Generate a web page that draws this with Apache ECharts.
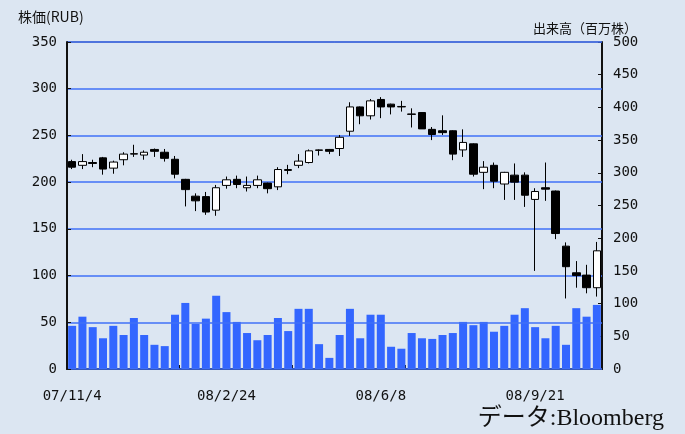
<!DOCTYPE html>
<html>
<head>
<meta charset="utf-8">
<script src="https://cdn.jsdelivr.net/npm/echarts@6/dist/echarts.min.js"></script>
<style>
html,body{margin:0;padding:0;background:#dce6f2;}
#chart{width:685px;height:434px;}
</style>
</head>
<body>
<div id="chart"></div>
<script>
// 週足 07/11/4 ~
var dates = ['07/11/4','07/11/11','07/11/18','07/11/25','07/12/2','07/12/9','07/12/16','07/12/23','07/12/30',
	'08/1/13','08/1/20','08/1/27','08/2/3','08/2/10','08/2/17','08/2/24','08/3/2','08/3/9','08/3/16','08/3/23',
	'08/3/30','08/4/6','08/4/13','08/4/20','08/4/27','08/5/4','08/5/11','08/5/18','08/5/25','08/6/1','08/6/8',
	'08/6/15','08/6/22','08/6/29','08/7/6','08/7/13','08/7/20','08/7/27','08/8/3','08/8/10','08/8/17','08/8/24',
	'08/8/31','08/9/7','08/9/14','08/9/21','08/9/28','08/10/5','08/10/12','08/10/19','08/10/26','08/11/2'];
var labelIdx = [0, 15, 30, 45];
// 始値, 終値, 安値, 高値
var openP  = [222,218,221,226,215,224,230,229,235,232,224.5,203,185,184.5,170,196.5,203,194,196.5,199,
	195,212.5,218,221,234,235,236,254.5,280.5,271,288.5,283.5,280.5,272.5,274.5,256.5,255,255,234.5,241,
	210.5,218,198,207.5,207.5,181.5,194,190.5,131.5,103,100.5,87];
var closeP = [216,222,220,214,221.5,230,230.5,232,233,225.5,208.5,192,180,168,194,202.5,197.5,196.5,202.5,193,
	213.5,213.5,222.5,233.5,234.5,233,248,280.5,271,287,280.5,280.5,281,273,257,251,253,230,242.5,208.5,
	216,201,210.5,200,186,190,192.5,145,109.5,100,87,126.5];
var lowP   = [214,214,216,208,209,218,227,224,227,222,204,174,169,165,164,193,193.5,190,193.5,188,
	191.5,208.5,215,220,228.5,230,228,249.5,262,267,268.5,272.5,275.5,258.5,257,245,250.5,223.5,227,206,
	192.5,193.5,181,181,173.5,105,180,139,75.5,87,81,77.5];
var highP  = [224,230,224,227,223,232,240,234,236,235.5,228,203.5,188,189.5,197,206,207,206,207,199.5,
	216,218.5,230,235,235,235.5,250.5,285.5,281,289,291,284,287,279,275,259,271.5,255.5,256.5,241.5,
	222.5,221,211,220,210.5,193.5,221,191,135.5,115.5,111.5,136];
// 出来高(百万株)
var volume = [66,80,64,47,66,52,78,52,37,35,83,101,69,77,112,87,72,55,44,52,
	78,58,92,92,38,17,52,92,47,83,83,34,31,55,47,46,52,55,72,67,
	72,57,66,83,93,64,47,66,37,93,80,98];

window.onload = function() {
	var chart = echarts.init(document.getElementById('chart'));
	var kdata = [];
	for (var i = 0; i < dates.length; i++) {
		kdata.push([openP[i], closeP[i], lowP[i], highP[i]]);
	}
	var font = "'DejaVu Sans Mono', monospace";
	var option = {
		backgroundColor: '#dce6f2',
		animation: false,
		title: [{
			text: '株価(RUB)', left: 13, top: 5,
			textStyle: {fontSize: 14, fontWeight: 'normal', color: '#111', fontFamily: "'Noto Sans CJK JP'"}
		}, {
			text: '出来高（百万株）', right: 43, top: 17,
			textStyle: {fontSize: 13, fontWeight: 'normal', color: '#111', fontFamily: "'Noto Sans CJK JP'"}
		}, {
			text: 'データ:Bloomberg', right: 16, top: 402,
			textStyle: {fontSize: 24, fontWeight: 'normal', color: '#111', fontFamily: "'Liberation Serif', 'Noto Sans CJK JP'"}
		}],
		grid: {
			left: 67, right: 83, top: 42, bottom: 65,
			show: true, borderColor: '#1b1b2b', borderWidth: 1
		},
		xAxis: [{
			type: 'category',
			data: dates,
			boundaryGap: true,
			axisLine: {lineStyle: {color: '#111', width: 2}},
			axisTick: {show: false},
			axisLabel: {
				color: '#111', fontSize: 14, fontFamily: font, margin: 20,
				interval: function(idx) { return labelIdx.indexOf(idx) >= 0; }
			},
			splitLine: {show: false}
		}, {
			// 目盛りだけ
			type: 'value', position: 'bottom', min: 0, max: 9.5, interval: 1,
			axisLine: {show: false},
			axisTick: {show: true, inside: true, length: 4, lineStyle: {color: '#111'}},
			axisLabel: {show: false},
			splitLine: {show: false}
		}],
		yAxis: [{
			type: 'value', min: 0, max: 350, interval: 50,
			z: 3, // 出来高の棒より上に罫線
			axisLine: {show: true, lineStyle: {color: '#111', width: 2}},
			axisTick: {show: true, inside: true, length: 4, lineStyle: {color: '#111'}},
			axisLabel: {color: '#111', fontSize: 14, fontFamily: font, margin: 10},
			splitLine: {show: true, lineStyle: {color: '#4170f7', width: 1.5}}
		}, {
			type: 'value', min: 0, max: 500, interval: 50,
			axisLine: {show: true, lineStyle: {color: '#111', width: 2}},
			axisTick: {show: true, inside: true, length: 4, lineStyle: {color: '#111'}},
			axisLabel: {color: '#111', fontSize: 14, fontFamily: font, margin: 11},
			splitLine: {show: false}
		}],
		series: [{
			name: '出来高',
			type: 'bar',
			yAxisIndex: 1,
			barWidth: 8,
			z: 1,
			itemStyle: {color: '#3366ff'},
			data: volume
		}, {
			name: '株価',
			type: 'candlestick',
			barWidth: 8,
			z: 5,
			itemStyle: {
				color: '#ffffff', color0: '#000000',
				borderColor: '#000000', borderColor0: '#000000', borderWidth: 1
			},
			data: kdata
		}]
	};
	chart.setOption(option);
};
</script>
</body>
</html>
